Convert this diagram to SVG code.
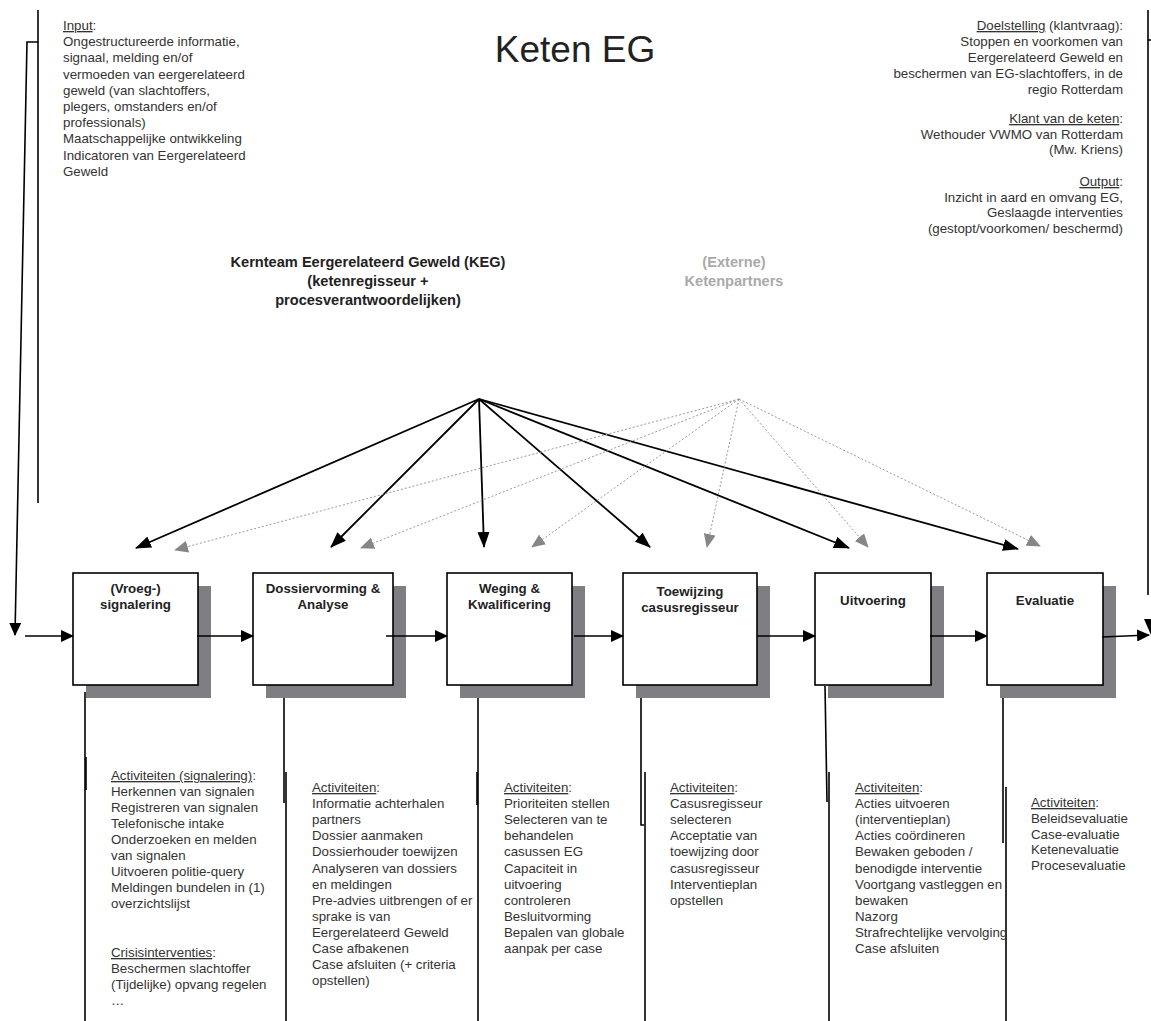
<svg xmlns="http://www.w3.org/2000/svg" width="1151" height="1021" viewBox="0 0 1151 1021">
<defs>
<style>
text{font-family:"Liberation Sans",Arial,sans-serif;font-size:13.3px;fill:#333}
.title{font-size:37px;fill:#222}
.lbl{font-weight:bold;text-anchor:middle;fill:#222}
.keg{font-weight:bold;font-size:14.6px;text-anchor:middle;fill:#222}
.ext{font-weight:bold;font-size:14.6px;text-anchor:middle;fill:#aaaaaa}
.r{text-anchor:end}
.box{fill:#fff;stroke:#000;stroke-width:1.6}
.sh{fill:#7f7f83}
.ln{stroke:#000;stroke-width:1.6;fill:none}
.bk{stroke:#000;stroke-width:1.8;fill:none;marker-end:url(#ab)}
.gr{stroke:#9a9a9a;stroke-width:1;stroke-dasharray:2 2;fill:none;marker-end:url(#ag)}
.fl{stroke:#000;stroke-width:1.6;fill:none;marker-end:url(#ah)}
</style>
<marker id="ab" viewBox="0 0 16 12" refX="15" refY="6" markerWidth="16" markerHeight="12" markerUnits="userSpaceOnUse" orient="auto"><path d="M0,0 L16,6 L0,12 z" fill="#000"/></marker>
<marker id="ag" viewBox="0 0 14 12" refX="13" refY="6" markerWidth="14" markerHeight="12" markerUnits="userSpaceOnUse" orient="auto"><path d="M0,0 L14,6 L0,12 z" fill="#86868a"/></marker>
<marker id="ah" viewBox="0 0 13 12" refX="12" refY="6" markerWidth="13" markerHeight="12" markerUnits="userSpaceOnUse" orient="auto"><path d="M0,0 L13,6 L0,12 z" fill="#000"/></marker>
<clipPath id="c5"><rect x="840" y="760" width="165" height="260"/></clipPath>
</defs>
<rect width="1151" height="1021" fill="#fff"/>

<text class="title" x="575" y="62" text-anchor="middle">Keten EG</text>

<g id="input">
<text x="63" y="30"><tspan text-decoration="underline">Input</tspan>:<tspan x="63" dy="16.2">Ongestructureerde informatie,</tspan><tspan x="63" dy="16.2">signaal, melding en/of</tspan><tspan x="63" dy="16.2">vermoeden van eergerelateerd</tspan><tspan x="63" dy="16.2">geweld (van slachtoffers,</tspan><tspan x="63" dy="16.2">plegers, omstanders en/of</tspan><tspan x="63" dy="16.2">professionals)</tspan><tspan x="63" dy="16.2">Maatschappelijke ontwikkeling</tspan><tspan x="63" dy="16.2">Indicatoren van Eergerelateerd</tspan><tspan x="63" dy="16.2">Geweld</tspan></text>
</g>

<g id="doel">
<text class="r" x="1123" y="30"><tspan text-decoration="underline">Doelstelling</tspan> (klantvraag):<tspan x="1123" dy="16">Stoppen en voorkomen van</tspan><tspan x="1123" dy="16">Eergerelateerd Geweld en</tspan><tspan x="1123" dy="16">beschermen van EG-slachtoffers, in de</tspan><tspan x="1123" dy="16">regio Rotterdam</tspan></text>
<text class="r" x="1123" y="123"><tspan text-decoration="underline">Klant van de keten</tspan>:<tspan x="1123" dy="15.7">Wethouder VWMO van Rotterdam</tspan><tspan x="1123" dy="15.7">(Mw. Kriens)</tspan></text>
<text class="r" x="1123" y="186"><tspan text-decoration="underline">Output</tspan>:<tspan x="1123" dy="15.7">Inzicht in aard en omvang EG,</tspan><tspan x="1123" dy="15.7">Geslaagde interventies</tspan><tspan x="1123" dy="15.7">(gestopt/voorkomen/ beschermd)</tspan></text>
</g>

<g id="keg">
<text class="keg" x="368" y="267">Kernteam Eergerelateerd Geweld (KEG)<tspan x="368" dy="19">(ketenregisseur +</tspan><tspan x="368" dy="19">procesverantwoordelijken)</tspan></text>
</g>
<g id="ketenpartners">
<text class="ext" x="734" y="267">(Externe)<tspan x="734" dy="19">Ketenpartners</tspan></text>
</g>

<g id="n1"><rect class="sh" x="86" y="586" width="125" height="112"/><rect class="box" x="73" y="573" width="125" height="112"/><text class="lbl" x="135.5" y="593">(Vroeg-)<tspan x="135.5" dy="16">signalering</tspan></text></g>
<g id="n2"><rect class="sh" x="266" y="586" width="140" height="112"/><rect class="box" x="253" y="573" width="140" height="112"/><text class="lbl" x="323" y="593">Dossiervorming &amp;<tspan x="323" dy="16">Analyse</tspan></text></g>
<g id="n3"><rect class="sh" x="460" y="586" width="125" height="112"/><rect class="box" x="447" y="573" width="125" height="112"/><text class="lbl" x="509.5" y="593">Weging &amp;<tspan x="509.5" dy="16">Kwalificering</tspan></text></g>
<g id="n4"><rect class="sh" x="636" y="586" width="134" height="112"/><rect class="box" x="623" y="573" width="134" height="112"/><text class="lbl" x="690" y="596">Toewijzing<tspan x="690" dy="16">casusregisseur</tspan></text></g>
<g id="n5"><rect class="sh" x="828" y="586" width="116" height="112"/><rect class="box" x="815" y="573" width="116" height="112"/><text class="lbl" x="873" y="605">Uitvoering</text></g>
<g id="n6"><rect class="sh" x="1000" y="586" width="116" height="112"/><rect class="box" x="987" y="573" width="116" height="112"/><text class="lbl" x="1045" y="605">Evaluatie</text></g>

<g id="connectors">
<line class="ln" x1="38" y1="10" x2="38" y2="503"/>
<polyline class="fl" points="38,42 27,42 15,635"/>
<line class="ln" x1="1148" y1="10" x2="1148" y2="595"/>
<line class="ln" x1="1148" y1="40" x2="1151" y2="40"/>
<polygon points="1144,619 1158,619 1151,635" fill="#000"/>

<line class="fl" x1="25" y1="636" x2="73" y2="636"/>
<line class="fl" x1="197" y1="636" x2="253" y2="636"/>
<line class="fl" x1="386" y1="636" x2="447" y2="636"/>
<line class="fl" x1="574" y1="636" x2="623" y2="636"/>
<line class="fl" x1="757" y1="636" x2="815" y2="636"/>
<line class="fl" x1="930" y1="636" x2="987" y2="636"/>
<line class="fl" x1="1102" y1="637" x2="1149" y2="635"/>

<line class="bk" x1="479" y1="399" x2="136" y2="548"/>
<line class="bk" x1="479" y1="399" x2="331" y2="547"/>
<line class="bk" x1="479" y1="399" x2="484" y2="547"/>
<line class="bk" x1="479" y1="399" x2="650" y2="547"/>
<line class="bk" x1="479" y1="399" x2="849" y2="548"/>
<line class="bk" x1="479" y1="399" x2="1018" y2="549"/>

<line class="gr" x1="739" y1="399" x2="175" y2="550"/>
<line class="gr" x1="739" y1="399" x2="361" y2="548"/>
<line class="gr" x1="739" y1="399" x2="532" y2="547"/>
<line class="gr" x1="739" y1="399" x2="707" y2="547"/>
<line class="gr" x1="739" y1="399" x2="868" y2="547"/>
<line class="gr" x1="739" y1="399" x2="1040" y2="546"/>

<line class="ln" x1="85" y1="692" x2="85" y2="1021"/>
<line class="ln" x1="86" y1="757" x2="86" y2="790"/>
<line class="ln" x1="284" y1="698" x2="284" y2="803"/>
<line class="ln" x1="286" y1="772" x2="286" y2="1021"/>
<line class="ln" x1="478" y1="698" x2="478" y2="1021"/>
<line class="ln" x1="477" y1="772" x2="477" y2="805"/>
<polyline class="ln" points="641,698 641,825 644,825"/>
<line class="ln" x1="645" y1="772" x2="645" y2="1021"/>
<line class="ln" x1="825" y1="686" x2="827" y2="802"/>
<line class="ln" x1="829" y1="772" x2="829" y2="1021"/>
<line class="ln" x1="1003" y1="698" x2="1003" y2="843"/>
<line class="ln" x1="1006" y1="787" x2="1006" y2="1021"/>
</g>

<g id="act1">
<text x="111" y="780"><tspan text-decoration="underline">Activiteiten (signalering)</tspan>:<tspan x="111" dy="16">Herkennen van signalen</tspan><tspan x="111" dy="16">Registreren van signalen</tspan><tspan x="111" dy="16">Telefonische intake</tspan><tspan x="111" dy="16">Onderzoeken en melden</tspan><tspan x="111" dy="16">van signalen</tspan><tspan x="111" dy="16">Uitvoeren politie-query</tspan><tspan x="111" dy="16">Meldingen bundelen in (1)</tspan><tspan x="111" dy="16">overzichtslijst</tspan></text>
<text x="111" y="957"><tspan text-decoration="underline">Crisisinterventies</tspan>:<tspan x="111" dy="16">Beschermen slachtoffer</tspan><tspan x="111" dy="16">(Tijdelijke) opvang regelen</tspan><tspan x="111" dy="16">…</tspan></text>
</g>
<g id="act2">
<text x="312" y="792"><tspan text-decoration="underline">Activiteiten</tspan>:<tspan x="312" dy="16.1">Informatie achterhalen</tspan><tspan x="312" dy="16.1">partners</tspan><tspan x="312" dy="16.1">Dossier aanmaken</tspan><tspan x="312" dy="16.1">Dossierhouder toewijzen</tspan><tspan x="312" dy="16.1">Analyseren van dossiers</tspan><tspan x="312" dy="16.1">en meldingen</tspan><tspan x="312" dy="16.1">Pre-advies uitbrengen of er</tspan><tspan x="312" dy="16.1">sprake is van</tspan><tspan x="312" dy="16.1">Eergerelateerd Geweld</tspan><tspan x="312" dy="16.1">Case afbakenen</tspan><tspan x="312" dy="16.1">Case afsluiten (+ criteria</tspan><tspan x="312" dy="16.1">opstellen)</tspan></text>
</g>
<g id="act3">
<text x="504" y="792"><tspan text-decoration="underline">Activiteiten</tspan>:<tspan x="504" dy="16.1">Prioriteiten stellen</tspan><tspan x="504" dy="16.1">Selecteren van te</tspan><tspan x="504" dy="16.1">behandelen</tspan><tspan x="504" dy="16.1">casussen EG</tspan><tspan x="504" dy="16.1">Capaciteit in</tspan><tspan x="504" dy="16.1">uitvoering</tspan><tspan x="504" dy="16.1">controleren</tspan><tspan x="504" dy="16.1">Besluitvorming</tspan><tspan x="504" dy="16.1">Bepalen van globale</tspan><tspan x="504" dy="16.1">aanpak per case</tspan></text>
</g>
<g id="act4">
<text x="670" y="792"><tspan text-decoration="underline">Activiteiten</tspan>:<tspan x="670" dy="16.1">Casusregisseur</tspan><tspan x="670" dy="16.1">selecteren</tspan><tspan x="670" dy="16.1">Acceptatie van</tspan><tspan x="670" dy="16.1">toewijzing door</tspan><tspan x="670" dy="16.1">casusregisseur</tspan><tspan x="670" dy="16.1">Interventieplan</tspan><tspan x="670" dy="16.1">opstellen</tspan></text>
</g>
<g id="act5" clip-path="url(#c5)">
<text x="855" y="792"><tspan text-decoration="underline">Activiteiten</tspan>:<tspan x="855" dy="16.1">Acties uitvoeren</tspan><tspan x="855" dy="16.1">(interventieplan)</tspan><tspan x="855" dy="16.1">Acties coördineren</tspan><tspan x="855" dy="16.1">Bewaken geboden /</tspan><tspan x="855" dy="16.1">benodigde interventie</tspan><tspan x="855" dy="16.1">Voortgang vastleggen en</tspan><tspan x="855" dy="16.1">bewaken</tspan><tspan x="855" dy="16.1">Nazorg</tspan><tspan x="855" dy="16.1">Strafrechtelijke vervolging</tspan><tspan x="855" dy="16.1">Case afsluiten</tspan></text>
</g>
<g id="act6">
<text x="1031" y="807"><tspan text-decoration="underline">Activiteiten</tspan>:<tspan x="1031" dy="15.8">Beleidsevaluatie</tspan><tspan x="1031" dy="15.8">Case-evaluatie</tspan><tspan x="1031" dy="15.8">Ketenevaluatie</tspan><tspan x="1031" dy="15.8">Procesevaluatie</tspan></text>
</g>
</svg>
